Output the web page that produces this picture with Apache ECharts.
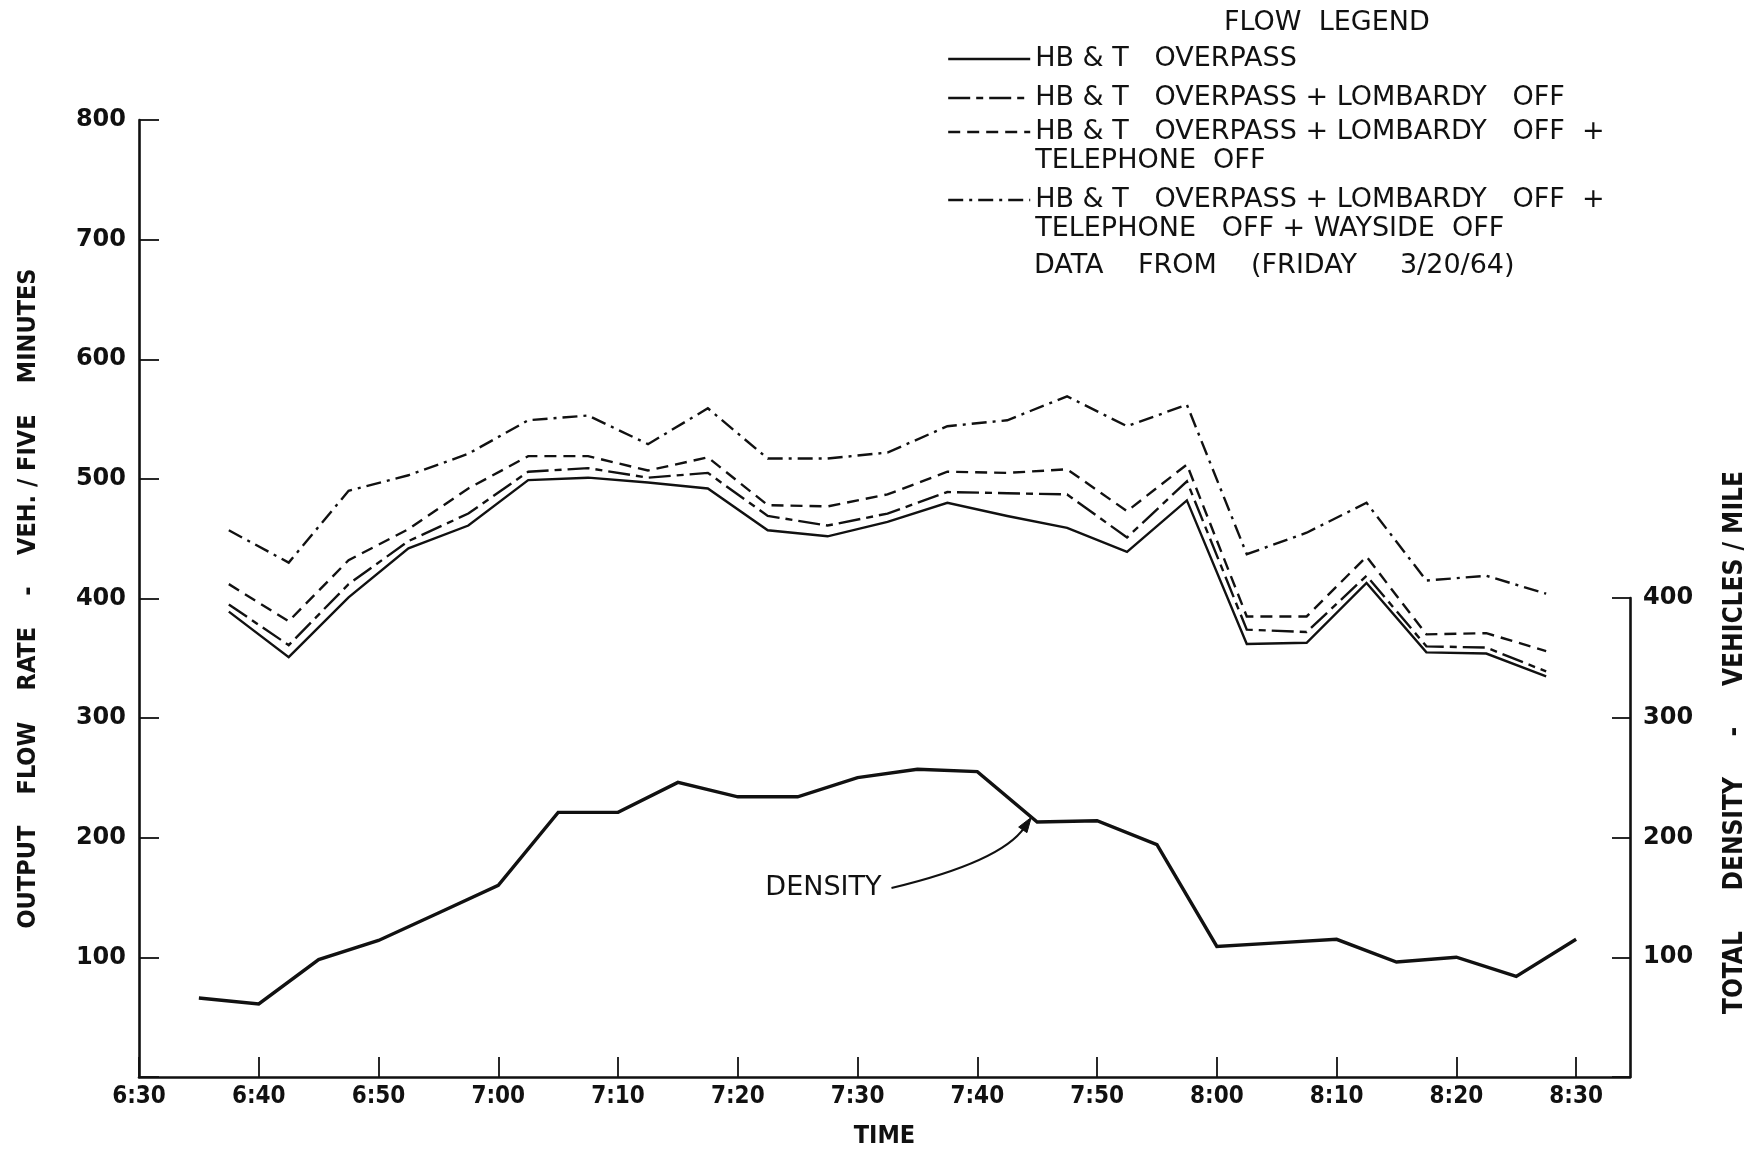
<!DOCTYPE html>
<html>
<head>
<meta charset="utf-8">
<script src="https://cdn.jsdelivr.net/npm/echarts/dist/echarts.min.js"></script>
<style>
html,body{margin:0;padding:0;background:#ffffff;}
#chart{width:1758px;height:1152px;}
</style>
</head>
<body>
<div id="chart"></div>
<script>
// ---------------- DATA ----------------
const seriesNames = [
  'HB & T   OVERPASS',
  'HB & T   OVERPASS + LOMBARDY   OFF',
  'HB & T   OVERPASS + LOMBARDY   OFF  +\nTELEPHONE  OFF',
  'HB & T   OVERPASS + LOMBARDY   OFF  +\nTELEPHONE   OFF + WAYSIDE  OFF'
];
const densityName = 'DENSITY';

const flowTimes = ['6:37:30','6:42:30','6:47:30','6:52:30','6:57:30','7:02:30','7:07:30','7:12:30',
  '7:17:30','7:22:30','7:27:30','7:32:30','7:37:30','7:42:30','7:47:30','7:52:30','7:57:30',
  '8:02:30','8:07:30','8:12:30','8:17:30','8:22:30','8:27:30'];

const flowOverpass = [389, 351, 401, 442, 461, 499, 501, 497, 492, 457, 452, 464, 480, 469, 459, 439, 482, 362, 363, 413, 355, 354, 335];
const flowLombardy = [395, 361, 412, 448, 471, 506, 509, 501, 505, 469, 461, 471, 489, 488, 487, 451, 498, 374, 372, 419, 360, 359, 339];
const flowTelephone = [412, 381, 432, 458, 492, 519, 519, 507, 518, 478, 477, 487, 506, 505, 508, 473, 512, 385, 385, 435, 370, 371, 356];
const flowWayside = [457, 430, 490, 503, 521, 549, 553, 529, 559, 517, 517, 522, 544, 549, 569, 544, 562, 437, 455, 480, 415, 419, 404];

const densityTimes = ['6:35','6:40','6:45','6:50','6:55','7:00','7:05','7:10','7:15','7:20','7:25','7:30',
  '7:35','7:40','7:45','7:50','7:55','8:00','8:05','8:10','8:15','8:20','8:25','8:30'];
const densityValues = [66, 61, 98, 114, 137, 160, 221, 221, 246, 234, 234, 250, 257, 255, 213, 214, 194, 109, 112, 115, 96, 100, 84, 115];

const xTickLabels = ['6:30','6:40','6:50','7:00','7:10','7:20','7:30','7:40','7:50','8:00','8:10','8:20','8:30'];
const leftTickLabels = ['', '100', '200', '300', '400', '500', '600', '700', '800'];
const rightTickLabels = ['', '100', '200', '300', '400'];

const xStart = '6:30';
const xEnd = '8:34:30';

// annotation anchors (data coordinates: clock time, value)
const densityNote = {
  text: 'DENSITY',
  textEnd: ['7:32:00', 158],
  arrowStart: ['7:32:50', 158],
  arrowCtrl: ['7:42:00', 180],
  arrowTip: ['7:44:30', 217]
};

// ---------------- HELPERS ----------------
function toMin(s) {
  const p = s.split(':').map(Number);
  return p[0] * 60 + p[1] + (p[2] || 0) / 60;
}
function pairs(times, vals) { return times.map((t, i) => [toMin(t), vals[i]]); }

const xMin = toMin(xStart);
const xMax = toMin(xEnd);

const INK = '#111111';
const FONT_TEXT = "'DejaVu Sans', 'Noto Sans', sans-serif";
const FONT_COND = "'DejaVu Sans Condensed', 'Liberation Sans Narrow', 'DejaVu Sans', sans-serif";

function xLabel(v) {
  const idx = (v - xMin) / 10;
  if (Math.abs(idx - Math.round(idx)) > 1e-6) return '';
  return xTickLabels[Math.round(idx)] || '';
}

const flowStyles = [
  { type: 'solid' },
  { type: [22, 6, 7, 6] },
  { type: [12, 7] },
  { type: [15, 6, 3, 6] }
];
const flowData = [flowOverpass, flowLombardy, flowTelephone, flowWayside];

const series = flowData.map((vals, i) => ({
  name: seriesNames[i],
  type: 'line',
  xAxisIndex: 0,
  yAxisIndex: 0,
  data: pairs(flowTimes, vals),
  symbol: 'none',
  showSymbol: false,
  silent: true,
  animation: false,
  lineStyle: { color: INK, width: 2.4, type: flowStyles[i].type, cap: 'butt', join: 'miter' },
  itemStyle: { color: INK }
}));
series.push({
  name: densityName,
  type: 'line',
  xAxisIndex: 1,
  yAxisIndex: 1,
  data: pairs(densityTimes, densityValues),
  symbol: 'none',
  showSymbol: false,
  silent: true,
  animation: false,
  lineStyle: { color: INK, width: 3.4, type: 'solid', join: 'miter' },
  itemStyle: { color: INK }
});

// legend: one component per entry so each line sits where the original places it
const LH = 29;
const legendTops = [44.5, 83.5, 88.5, 156.5];
const legends = seriesNames.map((n, i) => {
  const twoLine = n.indexOf('\n') >= 0;
  return {
    data: [n],
    orient: 'vertical',
    left: 947,
    top: legendTops[i],
    padding: 0,
    itemWidth: 82,
    itemHeight: 14,
    selectedMode: false,
    itemStyle: { opacity: 0, borderWidth: 0 },
    lineStyle: { width: 2.4 },
    // leading blank line keeps the sample line level with the first text line
    formatter: name => (twoLine ? '\n' + name : name),
    textStyle: {
      color: INK,
      fontFamily: FONT_TEXT,
      fontSize: 27,
      lineHeight: LH
    }
  };
});

const axisLineStyle = { color: INK, width: 2.6 };

const option = {
  backgroundColor: '#ffffff',
  animation: false,
  title: [
    { text: 'FLOW  LEGEND', left: 1224, top: 9, padding: 0,
      textStyle: { color: INK, fontFamily: FONT_TEXT, fontSize: 27, fontWeight: 'normal' } },
    { text: 'DATA    FROM    (FRIDAY     3/20/64)', left: 1034, top: 252, padding: 0,
      textStyle: { color: INK, fontFamily: FONT_TEXT, fontSize: 27, fontWeight: 'normal' } }
  ],
  legend: legends,
  grid: [
    { left: 139, right: 128, top: 120, bottom: 75, containLabel: false, outerBoundsMode: 'none' },
    { left: 139, right: 128, top: 598, bottom: 75, containLabel: false, outerBoundsMode: 'none' }
  ],
  xAxis: [
    {
      type: 'value', gridIndex: 0, min: xMin, max: xMax, interval: 10,
      name: 'TIME', nameLocation: 'middle', nameGap: 47, nameMoveOverlap: false,
      nameTextStyle: { color: INK, fontFamily: FONT_COND, fontSize: 25, fontWeight: 'bold' },
      axisLine: { show: true, onZero: false, lineStyle: axisLineStyle },
      axisTick: { show: true, inside: true, length: 20, lineStyle: { color: INK, width: 1.8 } },
      axisLabel: { show: true, margin: 8, formatter: xLabel, color: INK,
        fontFamily: FONT_COND, fontSize: 24, fontWeight: 'bold', showMaxLabel: false, hideOverlap: false },
      splitLine: { show: false }
    },
    {
      type: 'value', gridIndex: 1, min: xMin, max: xMax, interval: 10, show: false
    }
  ],
  yAxis: [
    {
      type: 'value', gridIndex: 0, position: 'left', min: 0, max: 800, interval: 100,
      name: 'OUTPUT    FLOW    RATE    -    VEH. / FIVE    MINUTES', nameLocation: 'middle', nameGap: 98,
      nameMoveOverlap: false,
      nameTextStyle: { color: INK, fontFamily: FONT_COND, fontSize: 25, fontWeight: 'bold' },
      axisLine: { show: true, onZero: false, lineStyle: axisLineStyle },
      axisTick: { show: true, inside: true, length: 20, lineStyle: { color: INK, width: 1.8 } },
      axisLabel: { show: true, margin: 13, color: INK, fontFamily: FONT_TEXT, fontSize: 24, fontWeight: 'bold',
        formatter: v => leftTickLabels[Math.round(v / 100)] || '' },
      splitLine: { show: false }
    },
    {
      type: 'value', gridIndex: 1, position: 'right', min: 0, max: 400, interval: 100,
      name: 'TOTAL     DENSITY     -     VEHICLES / MILE', nameLocation: 'middle', nameGap: 92,
      nameMoveOverlap: false,
      nameTextStyle: { color: INK, fontFamily: FONT_COND, fontSize: 26, fontWeight: 'bold',
        padding: [0, 0, 0, 190] },
      axisLine: { show: true, onZero: false, lineStyle: axisLineStyle },
      axisTick: { show: true, inside: true, length: 18, lineStyle: { color: INK, width: 1.8 } },
      axisLabel: { show: true, margin: 13, color: INK, fontFamily: FONT_TEXT, fontSize: 24, fontWeight: 'bold',
        formatter: v => rightTickLabels[Math.round(v / 100)] || '' },
      splitLine: { show: false }
    }
  ],
  series: series
};

const chart = echarts.init(document.getElementById('chart'), null, { renderer: 'canvas' });
chart.setOption(option);

// DENSITY annotation with curved arrow, positioned through the axes
function px(pt) { return chart.convertToPixel({ gridIndex: 0 }, [toMin(pt[0]), pt[1]]); }
const tEnd = px(densityNote.textEnd);
const a0 = px(densityNote.arrowStart);
const ac = px(densityNote.arrowCtrl);
const a1 = px(densityNote.arrowTip);
const dx = a1[0] - ac[0], dy = a1[1] - ac[1];
const dl = Math.sqrt(dx * dx + dy * dy);
const ux = dx / dl, uy = dy / dl;
const headLen = 15, headHalf = 5;
const baseX = a1[0] - ux * headLen, baseY = a1[1] - uy * headLen;
chart.setOption({
  graphic: [
    { type: 'bezierCurve', silent: true,
      shape: { x1: a0[0], y1: a0[1], cpx1: ac[0], cpy1: ac[1], x2: baseX + ux * 3, y2: baseY + uy * 3 },
      style: { stroke: INK, lineWidth: 2, fill: null } },
    { type: 'polygon', silent: true,
      shape: { points: [[a1[0], a1[1]], [baseX - uy * headHalf, baseY + ux * headHalf], [baseX + uy * headHalf, baseY - ux * headHalf]] },
      style: { fill: INK, stroke: INK, lineWidth: 1 } },
    { type: 'text', silent: true, x: tEnd[0], y: tEnd[1],
      style: { text: densityNote.text, align: 'right', verticalAlign: 'middle', fill: INK,
        font: "normal 27px 'DejaVu Sans', 'Noto Sans', sans-serif" } }
  ]
});
</script>
</body>
</html>
